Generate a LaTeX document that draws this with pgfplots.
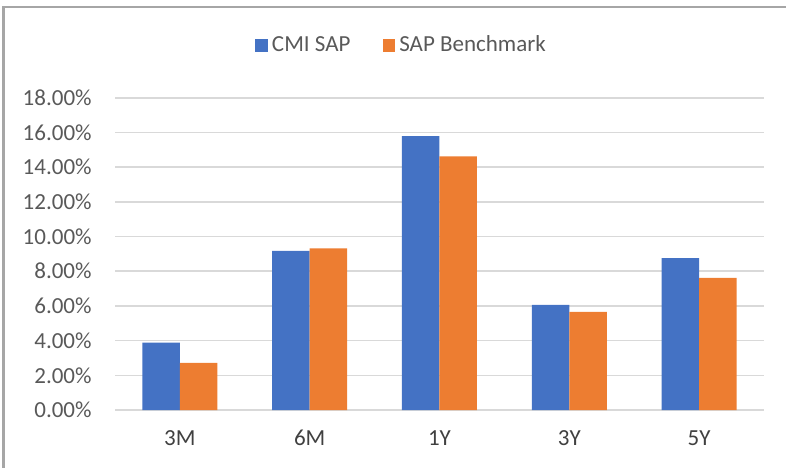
\documentclass[border=0pt]{standalone}
\usepackage{pgfplots}
\pgfplotsset{compat=1.18}
\usepackage{fontspec}
\setmainfont{Carlito}
\definecolor{cblue}{HTML}{4472C4}
\definecolor{corange}{HTML}{ED7D31}
\definecolor{txt}{HTML}{595959}
\definecolor{xtxt}{HTML}{404040}
\definecolor{gridc}{HTML}{D9D9D9}
\definecolor{framec}{HTML}{A6A6A6}
\begin{document}
\begin{tikzpicture}[x=0.5pt,y=0.5pt]
\useasboundingbox (0,0) rectangle (786,467);
\draw[framec, line width=1.2pt] (3.5,-5) -- (3.5,460) -- (800,460);
\begin{axis}[
  at={(57.5pt,28.5pt)}, anchor=south west,
  scale only axis, width=324.5pt, height=156.15pt,
  xmin=-0.5, xmax=4.5, ymin=0, ymax=18,
  ybar=0pt, bar width=18.75pt,
  xtick={0,1,2,3,4}, xticklabels={3M,6M,1Y,3Y,5Y},
  ytick={0,2,...,18},
  ymajorgrids, grid style={gridc, line width=0.8pt},
  axis line style={draw=none},
  major tick length=0pt,
  /pgf/number format/assume math mode=true,
  yticklabel={\pgfmathprintnumber[fixed,fixed zerofill,precision=2]{\tick}\%},
  yticklabel style={font=\fontsize{11.5}{13}\selectfont, text=txt, anchor=east, inner sep=0pt, xshift=-11.5pt},
  xticklabel style={font=\fontsize{11.5}{13}\selectfont, text=xtxt, anchor=north, inner sep=0pt, yshift=-10pt},
  legend style={at={(0.443,1.168)}, anchor=center, draw=none, fill=none, legend columns=2,
    font=\fontsize{11.5}{13}\selectfont, text=txt,
    /tikz/every even column/.append style={column sep=14pt}},
  legend image code/.code={\fill[#1,draw=none] (0pt,-3.2pt) rectangle (6.4pt,3.2pt);},
]
\addplot[fill=cblue, draw=none] coordinates {(0,3.88) (1,9.17) (2,15.79) (3,6.06) (4,8.75)};
\addplot[fill=corange, draw=none] coordinates {(0,2.71) (1,9.31) (2,14.62) (3,5.66) (4,7.62)};
\legend{CMI SAP, SAP Benchmark}
\end{axis}
\end{tikzpicture}
\end{document}
